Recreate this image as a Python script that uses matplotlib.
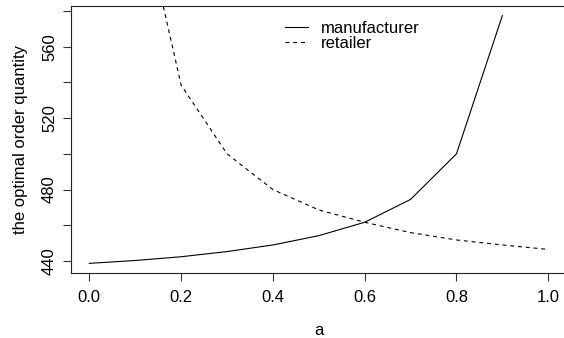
import matplotlib
matplotlib.use("Agg")
import matplotlib.pyplot as plt

plt.rcParams['font.family'] = ['Liberation Sans', 'DejaVu Sans']

# values
a_manu = [0.0, 0.1, 0.2, 0.3, 0.4, 0.5, 0.6, 0.7, 0.8, 0.9]
q_manu = [438.7, 440.3, 442.4, 445.3, 449.0, 454.2, 461.7, 474.5, 500.0, 577.4]

a_ret = [0.1, 0.2, 0.3, 0.4, 0.5, 0.6, 0.7, 0.8, 0.9, 1.0]
q_ret = [652.0, 538.5, 500.0, 480.0, 468.6, 461.7, 455.9, 451.8, 449.0, 446.5]

x_ticks = [0.0, 0.2, 0.4, 0.6, 0.8, 1.0]
x_ticklabels = ["0.0", "0.2", "0.4", "0.6", "0.8", "1.0"]
y_ticks = [440, 460, 480, 500, 520, 540, 560, 580]
y_ticklabels = ["440", "", "480", "", "520", "", "560", ""]

W, H = 564, 338
fig = plt.figure(figsize=(W / 100, H / 100), dpi=100)
ax = fig.add_axes([71 / W, 1 - 273 / H, (566.6 - 71) / W, (273 - 6.3) / H])

ax.plot(a_manu, q_manu, color="black", lw=0.8, label="manufacturer")
ax.plot(a_ret, q_ret, color="black", lw=0.8, dashes=(3.5, 3.5), label="retailer")

ax.set_xlim(-0.04, 1.04)
ax.set_ylim(433.3, 582.6)

ax.set_xticks(x_ticks)
ax.set_xticklabels(x_ticklabels)
ax.set_yticks(y_ticks)
ax.set_yticklabels(y_ticklabels, rotation=90, va="center")

ax.tick_params(direction="out", length=6, width=0.8, labelsize=12, pad=6,
               color="#333333")
ax.tick_params(axis="y", pad=4)
for s in ax.spines.values():
    s.set_linewidth(0.8)
    s.set_color("#222222")

ax.set_xlabel("a", fontsize=12, labelpad=13)
ax.set_ylabel("the optimal order quantity", fontsize=12, labelpad=10)

ax.legend(loc="upper left", bbox_to_anchor=(285 / W, 1 - 21 / H),
          bbox_transform=fig.transFigure, frameon=False, fontsize=12,
          handlelength=1.4, handletextpad=0.75, labelspacing=0.0,
          borderpad=0, borderaxespad=0)

fig.savefig("out.png", dpi=100)
